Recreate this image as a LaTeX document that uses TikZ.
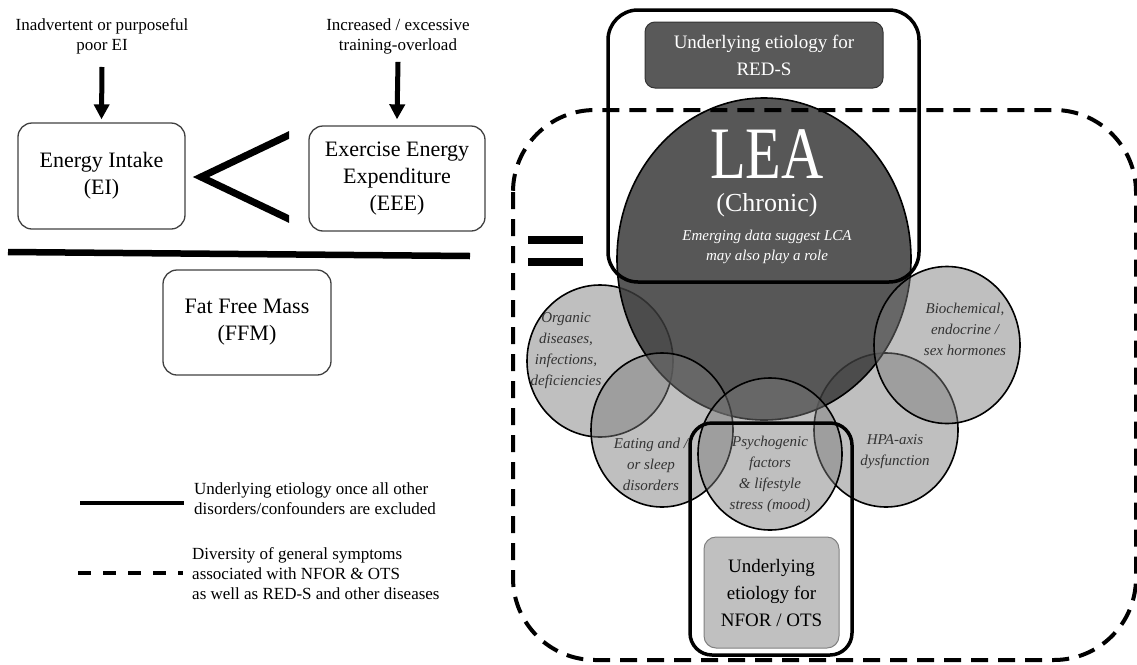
\documentclass[tikz,border=0pt]{standalone}
\usepackage{fontspec}
\setmainfont{Liberation Serif}
\usetikzlibrary{arrows.meta,shapes.geometric}
\definecolor{leafill}{gray}{0.224}
\definecolor{smallfill}{gray}{0.48}
\definecolor{redsfill}{HTML}{595959}
\definecolor{nforfill}{HTML}{C0C0C0}
\definecolor{circtext}{HTML}{333333}
\tikzset{
  ebox/.style={draw=black!75, line width=1.3pt, rounded corners=14pt, align=center,
    font=\fontsize{22}{27}\selectfont, inner sep=0pt},
  toplabel/.style={align=center, font=\fontsize{17}{20}\selectfont, inner sep=0pt},
  bigarrow/.style={line width=5pt, -{Triangle[width=15pt,length=15pt]}},
  legtext/.style={anchor=west, align=left, font=\fontsize{17}{20}\selectfont, inner sep=0pt},
  smallc/.style={ellipse, draw=black, line width=1.6pt, fill=smallfill, fill opacity=0.48, inner sep=0pt},
  leac/.style={ellipse, draw=black, line width=1.6pt, fill=leafill, fill opacity=0.85, inner sep=0pt},
  ctext/.style={align=center, text=circtext, font=\itshape\fontsize{15}{21}\selectfont, inner sep=0pt},
  dashbox/.style={line width=4pt, dash pattern=on 17pt off 10pt, rounded corners=82pt},
  solidbox/.style={draw=black, line width=3.5pt},
}
\begin{document}
\begin{tikzpicture}[x=1pt,y=-1pt]
\useasboundingbox (0,0) rectangle (1137,664);

% ---------- left side ----------
\node[toplabel] (t1) at (102,36) {Inadvertent or purposeful\\poor EI};
\node[toplabel] (t2) at (398,36) {Increased / excessive\\training-overload};

\node[ebox, minimum width=167pt, minimum height=106pt] (ei) at (101.5,176) {Energy Intake\\(EI)};
\node[ebox, minimum width=176pt, minimum height=105pt] (eee) at (397,178.5) {Exercise Energy\\Expenditure\\(EEE)};
\node[ebox, minimum width=168pt, minimum height=105pt] (ffm) at (247,322.5) {Fat Free Mass\\(FFM)};

\draw[bigarrow] ([yshift=-13pt]t1.south) -- ([yshift=3pt]ei.north);
\draw[bigarrow] ([yshift=-8pt]t2.south) -- ([yshift=6pt]eee.north);

\begin{scope}
  \clip (150,110) rectangle (289,240);
  \draw[line width=7pt] (300,129.75) -- (201,177) -- (300,224.25);
\end{scope}

\draw[line width=6.5pt] (8,252) -- (470,256);

% legend
\coordinate (l1a) at (80,503);
\coordinate (l1b) at (184,503);
\draw[line width=4pt] (l1a) -- (l1b);
\node[legtext] (leg1) at (194,499) {Underlying etiology once all other\\disorders/confounders are excluded};
\coordinate (l2a) at (78,573);
\coordinate (l2b) at (183,573);
\draw[line width=4pt, dash pattern=on 13pt off 12pt] (l2a) -- (l2b);
\node[legtext] (leg2) at (192,574) {Diversity of general symptoms\\associated with NFOR \& OTS\\as well as RED-S and other diseases};

% ---------- right side ----------
\node[smallc, minimum width=146pt, minimum height=152pt] (org) at (600,361) {};
\node[smallc, minimum width=144pt, minimum height=154pt] (hpa) at (886,430) {};
\node[leac, minimum width=294pt, minimum height=322pt] (lea) at (764,259) {};
\node[smallc, minimum width=142pt, minimum height=154pt] (eat) at (662,430) {};
\node[smallc, minimum width=144pt, minimum height=152pt] (psy) at (770,454) {};
\node[smallc, minimum width=146pt, minimum height=157pt] (bio) at (947,345) {};

% dashed outer box
\draw[dashbox] (513,110) rectangle (1136,660);

% equals sign
\draw[line width=8pt] (528,240) -- (583,240);
\draw[line width=8pt] (528,262) -- (583,262);

% RED-S box
\draw[solidbox, rounded corners=30pt] (608,10) rectangle (919,282);
\node[draw=black!80, line width=1pt, fill=redsfill, rounded corners=10pt, minimum width=238pt, minimum height=66pt,
  text=white, align=center, font=\fontsize{19}{27}\selectfont, inner sep=0pt] (reds) at (764,55)
  {Underlying etiology for\\RED-S};

% LEA text
\node[anchor=base, text=white, inner sep=0pt] (leat) at (767,178) {\scalebox{0.79}[1]{\fontsize{74}{74}\selectfont LEA}};
\node[anchor=base, text=white, inner sep=0pt, font=\fontsize{26}{30}\selectfont] (chron) at (767,211) {(Chronic)};
\node[anchor=base, text=white, inner sep=0pt, font=\itshape\fontsize{15}{20}\selectfont] (emer1) at (767,240) {Emerging data suggest LCA};
\node[anchor=base, text=white, inner sep=0pt, font=\itshape\fontsize{15}{20}\selectfont] (emer2) at (767,260) {may also play a role};

% circle texts
\node[ctext] (orgt) at (566,351) {Organic\\diseases,\\infections,\\deficiencies};
\node[ctext] (eatt) at (651,464) {Eating and /\\or sleep\\disorders};
\node[ctext] (psyt) at (770,474) {Psychogenic\\factors\\\& lifestyle\\stress (mood)};
\node[ctext] (hpat) at (895,452) {HPA-axis\\dysfunction};
\node[ctext] (biot) at (965,329) {Biochemical,\\endocrine /\\sex hormones};

% NFOR box
\draw[solidbox, rounded corners=22pt] (690,423) rectangle (852,655);
\node[draw=black!50, line width=1pt, fill=nforfill, rounded corners=12pt, minimum width=135pt, minimum height=111pt,
  align=center, font=\fontsize{19}{27}\selectfont, inner sep=0pt] (nfor) at (771.5,592.5)
  {Underlying\\etiology for\\NFOR / OTS};
\end{tikzpicture}
\end{document}
